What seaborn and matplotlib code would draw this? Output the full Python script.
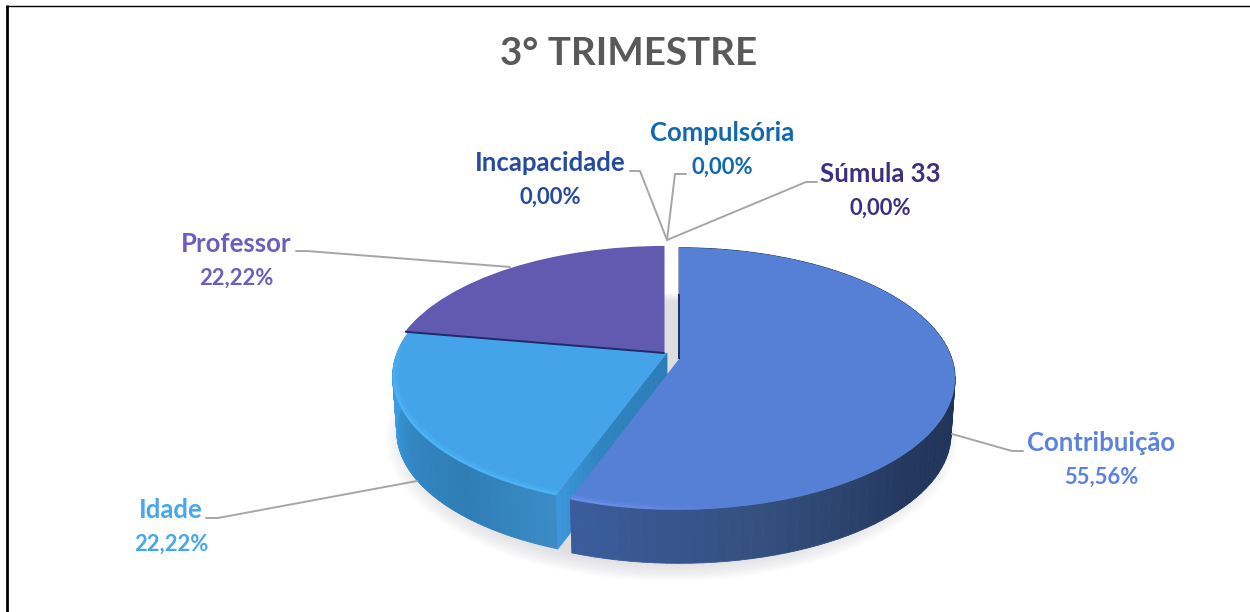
import numpy as np
import matplotlib
matplotlib.use('Agg')
import matplotlib.pyplot as plt
import seaborn as sns
from matplotlib.collections import LineCollection, PolyCollection
from matplotlib.patches import Circle
from matplotlib.transforms import Transform

# Data
categories = ['Contribuição', 'Idade', 'Professor', 'Incapacidade', 'Compulsória', 'Súmula 33']
values = [55.56, 22.22, 22.22, 0.00, 0.00, 0.00]
title = '3° TRIMESTRE'

# Colours
top_colors = ['#567FD6', '#44A3E9', '#6259B0', '#254A9E', '#1168AE', '#3D2F80']
text_colors = ['#5B82DC', '#45A7EE', '#6A5FBF', '#254A9E', '#1168AE', '#3D2F80']

# Layout, in pixels of the 1250x612 picture
label_pos = [(1101, 460), (171, 527), (236, 261), (550, 180), (722, 150), (880, 191)]
leaders = [
    [(952, 434), (1012, 451), (1023, 451)],
    [(417, 481), (218, 518), (206, 518)],
    [(510, 267), (307, 251), (296, 251)],
    [(667, 240), (640, 171), (630, 171)],
    [(667, 240), (675, 174), (686, 174)],
    [(667, 240), (806, 182), (817, 182)],
]
DEPTH = 56

# One view per slice: cx, cy, rx, ry, tilt
contrib_view = (679, 359, 273, 128, 0.15)
idade_view = (667, 353, 270, 126, 0.177)
professor_view = (664.5, 353, 271.6, 126, 0.177)
shadow_view = (672, 409, 255, 126, 0.177)


class PieView(Transform):
    """Perspective view of the unit pie, gives picture pixels"""
    input_dims = 2
    output_dims = 2

    def __init__(self, view, shift=0, scale=1.0):
        super().__init__()
        self.cx, self.cy, self.rx, self.ry, self.tilt = view
        self.shift, self.scale = shift, scale

    def transform_non_affine(self, values):
        xy = np.asarray(values, dtype=float)
        w = 1 + self.tilt * xy[:, 1]
        return np.column_stack((self.cx + self.scale * self.rx * xy[:, 0] / w,
                                self.cy + self.shift - self.scale * self.ry * xy[:, 1] / w))


def unit_arc(theta1, theta2, n):
    t = np.radians(np.linspace(theta1, theta2, n))
    return np.column_stack((np.cos(t), np.sin(t)))


def draw_wall(ax, pts, view, stops, zorder):
    """Extrude a run of unit-pie points downwards, colours blend along the run"""
    n = len(pts) - 1
    upper = PieView(view).transform_non_affine(pts)
    lower = PieView(view, DEPTH, 0.985).transform_non_affine(pts)
    quads = [[upper[i], upper[i + 1], lower[i + 1], lower[i]] for i in range(n)]
    colors = sns.blend_palette(stops, n)
    ax.add_collection(PolyCollection(quads, facecolors=colors, edgecolors=colors,
                                     linewidths=0.6, zorder=zorder))


def draw_bevel(ax, theta1, theta2, view, color, ramp, zorder):
    """Light band along the rim, fades in from theta1"""
    n = 80
    for radius, width, strength in [(0.988, 3.5, 0.35), (0.996, 1.8, 0.7)]:
        pts = PieView(view).transform_non_affine(radius * unit_arc(theta1, theta2, n + 1))
        segs = [pts[i:i + 2] for i in range(n)]
        alpha = strength * np.clip(np.linspace(0, ramp, n), 0, 1)
        rgba = [matplotlib.colors.to_rgb(color) + (a,) for a in alpha]
        ax.add_collection(LineCollection(segs, colors=rgba, linewidths=width,
                                         capstyle='butt', zorder=zorder))


def main():
    sns.set_theme(style='white')
    plt.rcParams['font.family'] = ['Lato', 'DejaVu Sans']

    fig = plt.figure(figsize=(12.5, 6.12), dpi=100)
    ax = fig.add_axes([0, 0, 1, 1])

    wedges, _ = ax.pie(values, colors=top_colors, startangle=90, counterclock=False,
                       wedgeprops={'linewidth': 0})
    ax.set_aspect('auto')
    ax.set_xlim(0, 1250)
    ax.set_ylim(612, 0)
    ax.axis('off')

    # Soft shadow under the pie
    shadow = PieView(shadow_view) + ax.transData
    for r in np.linspace(1.10, 1.0, 14):
        ax.add_patch(Circle((0, 0), r, transform=shadow, fc='#8A8A92', ec='none',
                            alpha=0.02, zorder=1))

    # Walls: Idade rim, Idade cut face, then Contribuição rim in front
    idade, contrib = wedges[1], wedges[0]
    draw_wall(ax, unit_arc(idade.theta2, idade.theta1, 91), idade_view,
              ['#3A8BC7', '#2F7DB5', '#3186C2', '#3D9CDF', '#3D9CDF'], 2)
    end = unit_arc(idade.theta2, idade.theta2, 1)
    draw_wall(ax, np.linspace(0, 1, 31)[:, None] * end, idade_view,
              ['#2C7DB8', '#2E80BC', '#2F84C0', '#3C96D8'], 3)
    draw_wall(ax, unit_arc(contrib.theta2, contrib.theta1, 91), contrib_view,
              ['#1F3357', '#1F3357', '#1F3357', '#1F3357', '#25395F', '#34507F', '#3B5C9C'], 4)

    # Top faces
    views = [contrib_view, idade_view, professor_view, professor_view, professor_view, professor_view]
    for i, wedge in enumerate(wedges):
        wedge.set_transform(PieView(views[i]) + ax.transData)
        wedge.set_zorder(6 if i == 0 else 5)

    # Rim highlights and dark edges
    draw_bevel(ax, idade.theta1, idade.theta2, idade_view, '#4FB8F8', 3, 5.5)
    draw_bevel(ax, contrib.theta1 + 30, contrib.theta1, contrib_view, '#7093EE', 1.2, 6.5)

    boundary = np.radians(idade.theta1)
    ax.plot([0, np.cos(boundary)], [0, np.sin(boundary)], color='#1E2A6B', lw=1.4,
            transform=PieView(professor_view) + ax.transData,
            solid_capstyle='butt', zorder=5.6)
    ax.plot([0, 0], [0, 0.55], color='#1F2F66', lw=1.4,
            transform=PieView(contrib_view) + ax.transData,
            solid_capstyle='butt', zorder=6.6)

    # Leader lines and labels
    for line in leaders:
        xs, ys = zip(*line)
        ax.plot(xs, ys, color='#A6A6A6', lw=1.4, solid_joinstyle='miter', zorder=7)

    for name, val, pos, color in zip(categories, values, label_pos, text_colors):
        ax.text(pos[0], pos[1] - 17, name, color=color, fontsize=18.5, fontweight='bold',
                ha='center', va='center', zorder=8)
        ax.text(pos[0], pos[1] + 17, f"{val:.2f}".replace('.', ',') + '%', color=color,
                fontsize=15.8, fontweight='bold', ha='center', va='center', zorder=8)

    ax.text(629, 54, title, color='#595959', fontsize=27.7, fontweight='bold',
            ha='center', va='center')

    # Frame of the pasted chart: only top and left are in the crop
    ax.plot([7, 7], [5, 612], color='black', lw=2.0, solid_capstyle='butt')
    ax.plot([6, 1250], [5.5, 5.5], color='black', lw=1.0, solid_capstyle='butt')

    fig.savefig('out.png', dpi=100)


if __name__ == "__main__":
    main()
